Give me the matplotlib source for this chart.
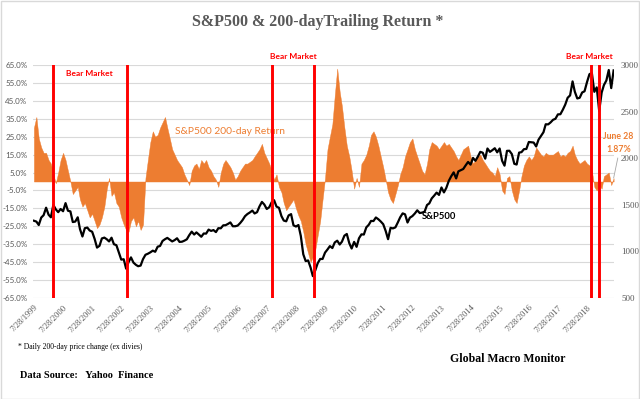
import pandas as pd
import matplotlib
matplotlib.use('Agg')
import matplotlib.pyplot as plt
from matplotlib.patches import Rectangle

# Monthly S&P500 closes, Jul 1999 .. Jun 2019
sp500 = [
    1329, 1320, 1283, 1363, 1389, 1469,
    1394, 1366, 1499, 1452, 1421, 1455, 1431, 1518, 1437, 1429, 1315, 1320,
    1366, 1240, 1160, 1249, 1256, 1224, 1211, 1134, 1041, 1060, 1139, 1148,
    1130, 1107, 1147, 1077, 1067, 990, 912, 916, 815, 886, 936, 880,
    856, 841, 848, 917, 964, 975, 990, 1008, 996, 1051, 1058, 1112,
    1131, 1145, 1126, 1107, 1121, 1141, 1102, 1104, 1115, 1130, 1174, 1212,
    1181, 1204, 1181, 1157, 1192, 1191, 1234, 1220, 1229, 1207, 1249, 1248,
    1280, 1281, 1295, 1311, 1270, 1270, 1277, 1304, 1336, 1378, 1401, 1418,
    1438, 1407, 1421, 1482, 1531, 1503, 1455, 1474, 1527, 1549, 1481, 1468,
    1379, 1331, 1323, 1386, 1400, 1280, 1267, 1283, 1166, 969, 896, 903,
    826, 735, 798, 873, 919, 919, 987, 1021, 1057, 1036, 1096, 1115,
    1074, 1104, 1169, 1187, 1089, 1031, 1102, 1049, 1141, 1183, 1181, 1258,
    1286, 1327, 1326, 1364, 1345, 1321, 1292, 1219, 1131, 1253, 1247, 1258,
    1312, 1366, 1408, 1398, 1310, 1362, 1379, 1407, 1441, 1412, 1416, 1426,
    1498, 1515, 1569, 1598, 1631, 1606, 1686, 1633, 1682, 1757, 1806, 1848,
    1783, 1859, 1872, 1884, 1924, 1960, 1931, 2003, 1972, 2018, 2068, 2059,
    1995, 2104, 2068, 2086, 2107, 2063, 2104, 1972, 1920, 2079, 2080, 2044,
    1940, 1932, 2060, 2065, 2097, 2099, 2174, 2171, 2168, 2126, 2199, 2239,
    2279, 2364, 2363, 2384, 2412, 2423, 2470, 2472, 2519, 2575, 2648, 2674,
    2824, 2714, 2641, 2648, 2705, 2718, 2816, 2902, 2914, 2712, 2760, 2507,
    2704, 2784, 2834, 2946, 2752, 2942,
]

# 200-day trailing return (%), same months
ret200 = [
    30, 36, 24, 19, 16, 16, 12, 10, 4, -1, 5, 12,
    16, 12, 6, 0, -7, -5, -3, -10, -14, -12, -16, -20,
    -18, -22, -26, -24, -20, -14, -4, 2, -8, -6, -12, -14,
    -20, -24, -27, -28, -22, -20, -25, -22, -27, -24, 2, 12,
    22, 28, 25, 26, 30, 33, 36, 30, 24, 18, 15, 12,
    10, 8, 4, 1, -2, 6, 9, 10, 7, 12, 10, 12,
    8, 6, 3, 1, -3, 5, 10, 12, 10, 8, 5, 1,
    3, 6, 8, 10, 10, 11, 12, 14, 16, 18, 21, 16,
    13, 10, 6, 1, 4, -3, -6, -12, -16, -14, -12, -10,
    -15, -19, -22, -28, -35, -40, -45, -42, -38, -30, -22, -10,
    2, 18, 25, 32, 48, 63, 50, 42, 30, 20, 14, 6,
    -4, 2, -3, 10, 12, 15, 20, 26, 28, 25, 20, 14,
    8, 1, -6, -10, -12, -7, -2, 4, 8, 14, 18, 22,
    24, 18, 14, 10, 6, 4, 10, 18, 22, 21, 20, 18,
    20, 22, 20, 21, 19, 17, 14, 12, 15, 18, 19, 20,
    14, 10, 12, 14, 15, 12, 10, 8, 6, 5, 3, 8,
    4, -5, -7, 2, 3, -5, -10, -12, -5, 3, 9, 12,
    14, 12, 14, 19, 17, 15, 14, 16, 15, 15, 15, 16,
    17, 14, 15, 14, 16, 17, 20, 15, 12, 10, 11, 12,
    10, 9, 6, -3, -5, -2, -4, 3, 4, 5, -2, 1.87,
]

dates = pd.date_range('1999-07-31', periods=len(sp500), freq='ME')

# Bear market start/end markers
bear_dates = pd.to_datetime(['2000-03-24', '2002-10-09', '2007-10-09',
                             '2009-03-09', '2018-09-20', '2018-12-24'])

tick_dates = pd.to_datetime([f'{y}-07-28' for y in range(1999, 2019)])
tick_labels = [f'7/28/{y}' for y in range(1999, 2019)]

orange = '#ed7d31'
grey = '#595959'

fig = plt.figure(figsize=(6.4, 3.99), dpi=100)
ax = fig.add_axes([0.0516, 0.2531, 0.9078, 0.5840])
ax2 = ax.twinx()

# orange area: 200-day return
ax.fill_between(dates, 0, ret200, color=orange, lw=0.3, ec=orange)
ax.set_ylim(-65, 65)
ax.set_yticks(range(-65, 66, 10))
ax.set_yticklabels([f'{v:.1f}%' for v in range(-65, 66, 10)],
                   family='Lato', fontsize=5.8, color=grey)
ax.grid(axis='y', color='#d9d9d9', lw=0.8)
ax.set_axisbelow(True)
ax.set_xlim(pd.Timestamp('1999-07-20'), pd.Timestamp('2019-07-05'))
ax.set_xticks(tick_dates)
ax.set_xticklabels(tick_labels, rotation=45, ha='right', rotation_mode='anchor',
                   family='Liberation Serif', fontsize=6.2, color=grey)
ax.tick_params(length=0, pad=4)

# black line: S&P500 level on right axis
ax2.plot(dates, sp500, color='black', lw=1.6, zorder=3)
ax2.set_ylim(500, 3000)
ax2.set_yticks(range(500, 3001, 500))
ax2.set_yticklabels([str(v) for v in range(500, 3001, 500)],
                    family='Liberation Serif', fontsize=6.5, color=grey)
ax2.tick_params(length=0, pad=5)

for d in bear_dates:
    ax2.axvline(d, color='#ff0000', lw=2.1, zorder=5)

for a in (ax, ax2):
    for s in a.spines.values():
        s.set_visible(False)

# labels
bear_kw = dict(color='#ff0000', fontsize=6, fontweight='bold', family='Lato', ha='center', va='center')
ax.text(pd.Timestamp('2001-07-01'), 60, 'Bear Market', **bear_kw)
ax.text(pd.Timestamp('2008-07-01'), 69.5, 'Bear Market', clip_on=False, **bear_kw)
ax.text(pd.Timestamp('2018-09-01'), 70, 'Bear Market', clip_on=False, **bear_kw)

ax.text(pd.Timestamp('2006-05-01'), 28, 'S&P500 200-day Return', color=orange,
        fontsize=7.4, family='Lato', ha='center', va='center')
ax2.text(pd.Timestamp('2013-07-01'), 1375, 'S&P500', color='black',
         fontsize=6.8, family='Lato', fontweight='bold', ha='center', va='center')

ax.annotate('June 28\n1.87%', xy=(dates[-1], ret200[-1]), xytext=(1.008, 0.665),
            textcoords='axes fraction', ha='center', va='center', color=orange,
            fontsize=6.3, family='Lato', fontweight='bold', linespacing=1.5,
            arrowprops=dict(arrowstyle='-', color='#a6a6a6', lw=0.6,
                            shrinkA=1, shrinkB=0, relpos=(0.5, 0)))

fig.text(0.496, 0.945, 'S&P500 & 200-dayTrailing Return *', ha='center', va='center',
         fontsize=11.5, fontweight='bold', family='Liberation Serif', color=grey)
fig.text(18 / 640, 1 - 347 / 399, '* Daily 200-day price change (ex divies)',
         fontsize=5.5, family='Liberation Serif', va='center')
fig.text(450 / 640, 1 - 359 / 399, 'Global Macro Monitor',
         fontsize=8.5, fontweight='bold', family='Liberation Serif', va='center')
fig.text(20 / 640, 1 - 376 / 399, 'Data Source:   Yahoo  Finance',
         fontsize=7.5, fontweight='bold', family='Liberation Serif', va='center')

fig.patches.append(Rectangle((0.001, 0.001), 0.997, 0.996, transform=fig.transFigure,
                             fill=False, ec='#d9d9d9', lw=1))

fig.savefig('out.png', dpi=100)
